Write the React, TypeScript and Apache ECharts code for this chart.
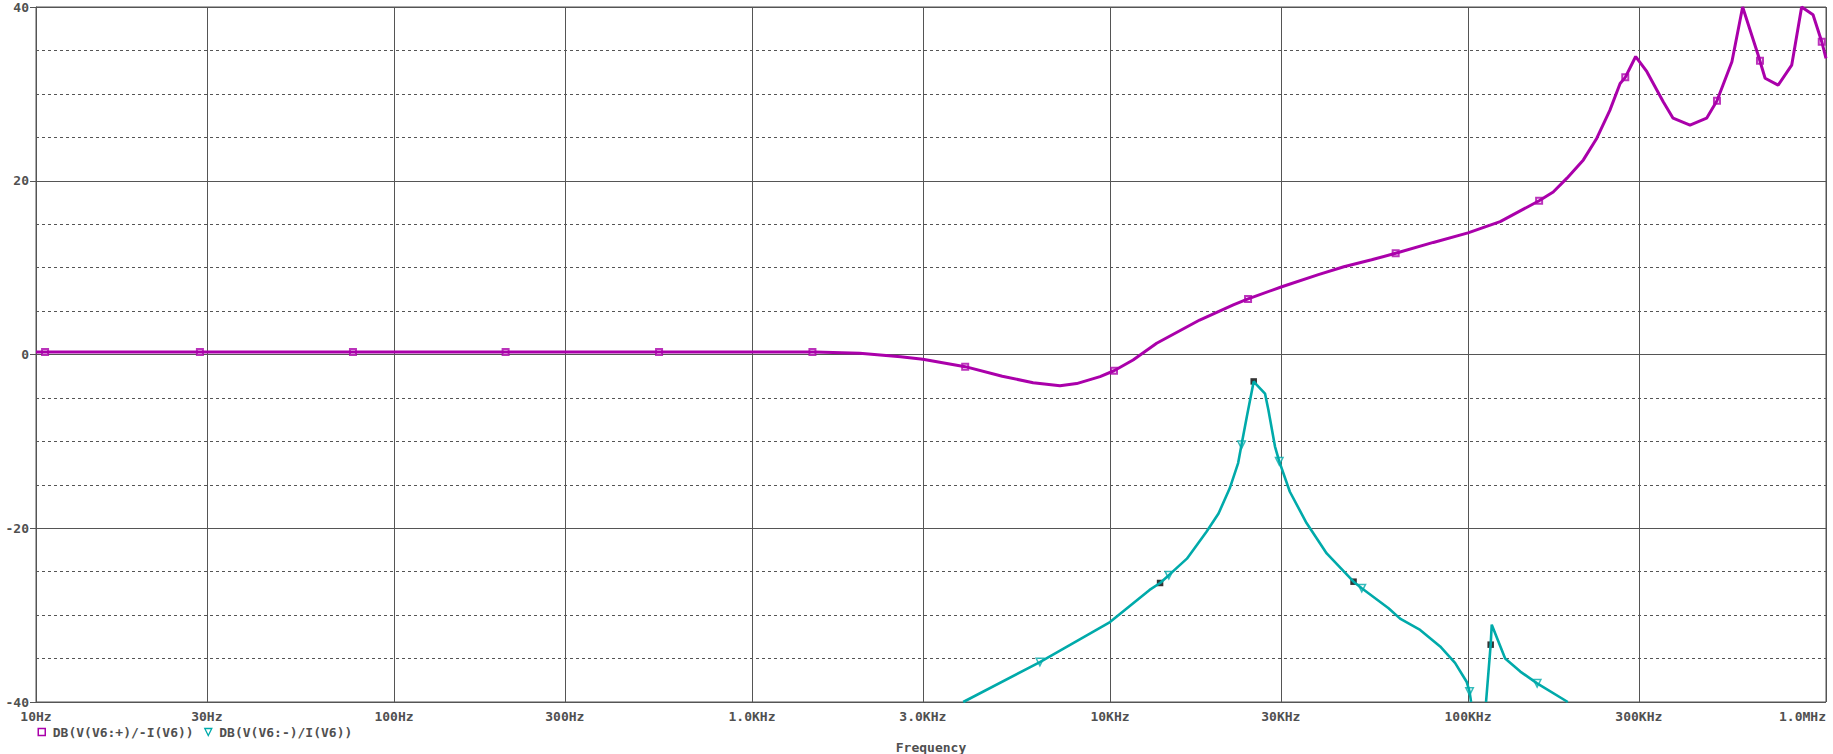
import React, { useEffect, useRef } from "react";
import * as echarts from "echarts";

// ---- axis ticks ----
const tickFreqs = [10, 30, 100, 300, 1000, 3000, 10000, 30000, 100000, 300000, 1000000];
const tickLabels = ["10Hz", "30Hz", "100Hz", "300Hz", "1.0KHz", "3.0KHz", "10KHz", "30KHz", "100KHz", "300KHz", "1.0MHz"];

// ---- series names ----
const magentaName = "DB(V(V6:+)/-I(V6))";
const cyanName = "DB(V(V6:-)/I(V6))";

// ---- magenta trace (Hz, dB) ----
const magentaFreq = [
  10, 30, 100, 300, 1000, 1500, 2000, 2600, 3000, 3940, 5000, 6100, 7250, 8070, 9380, 10260,
  11600, 13500, 17800, 22100, 24300, 30200, 38200, 45000, 53800, 62800, 80000, 100000, 123000,
  158000, 173000, 189000, 210000, 229000, 249000, 266000, 275000, 294000, 316000, 351000, 374000,
  417000, 464000, 496000, 546000, 585000, 646000, 676000, 735000, 802000, 855000, 920000, 973000, 1000000,
];
const magentaDb = [
  0.3, 0.3, 0.3, 0.3, 0.3, 0.3, 0.15, -0.25, -0.55, -1.4, -2.5, -3.25, -3.6, -3.35, -2.55, -1.87,
  -0.63, 1.29, 3.97, 5.7, 6.4, 7.8, 9.2, 10.1, 10.9, 11.65, 12.9, 14.0, 15.3,
  17.7, 18.7, 20.3, 22.4, 24.9, 28.1, 31.2, 31.9, 34.3, 32.55, 29.1, 27.2,
  26.4, 27.2, 29.2, 33.7, 40, 34.5, 31.8, 31.0, 33.3, 40, 39.1, 36.0, 34.1,
];
const magentaMarkFreq = [10.6, 28.7, 76.8, 205, 550, 1475, 3940, 10260, 24300, 62800, 158000, 275000, 496000, 654000, 973000];
const magentaMarkDb = [0.3, 0.3, 0.3, 0.3, 0.3, 0.3, -1.4, -1.87, 6.4, 11.65, 17.7, 31.9, 29.2, 33.8, 36.0];

// ---- cyan trace (Hz, dB); null = trace below the plot ----
const cyanFreq = [
  3890, 6370, 10000, 12900, 13800, 14600, 16400, 18600, 20100, 21600, 22800, 23300, 24100,
  25200, 25700, 27100, 27700, 28900, 29700, 31800, 35400, 40300, 47900, 50500, 60000, 64600, 73500,
  83600, 92000, 99200, 101000, 102000, 107000, 112300, 115700, 116500, 127000, 140000, 156000, 190000,
];
const cyanDb = [
  -40, -35.4, -30.8, -27.1, -26.3, -25.4, -23.5, -20.4, -18.3, -15.4, -12.5, -10.4, -7.2,
  -3.1, -3.5, -4.5, -6.4, -10.6, -12.3, -15.8, -19.4, -22.9, -26.15, -26.9, -29.2, -30.4, -31.7,
  -33.6, -35.5, -37.7, -38.8, -40, null, -40, -33.4, -31.1, -35.0, -36.5, -37.85, -40,
];
const cyanMarkFreq = [6370, 14600, 23300, 29700, 50500, 101000, 156000];
const cyanMarkDb = [-35.4, -25.4, -10.4, -12.3, -26.9, -38.8, -37.85];

// ---- cursor marks (black squares) ----
const cursorFreq = [13800, 25200, 47900, 115700];
const cursorDb = [-26.3, -3.1, -26.15, -33.4];

const MAGENTA = "#aa00aa";
const CYAN = "#00aaaa";
const GRID = "#555555";
const TEXT = "#505050";
const FONT = "DejaVu Sans Mono";
const TRI = "path://M0,0L10,0L5,10Z";
const SQUARE = "path://M0,0L10,0L10,10L0,10Z";

function zip(xs: number[], ys: (number | null)[]) {
  return xs.map((x, i) => (ys[i] === null ? [x, "-"] : [x, ys[i]]));
}

function labelFor(v: number): string {
  let best = 0;
  let bd = Infinity;
  tickFreqs.forEach((t, i) => {
    const d = Math.abs(Math.log10(v) - Math.log10(t));
    if (d < bd) {
      bd = d;
      best = i;
    }
  });
  return tickLabels[best];
}

export default function App() {
  const ref = useRef<HTMLDivElement>(null);
  useEffect(() => {
    if (!ref.current) return;
    const chart = echarts.init(ref.current, undefined, { renderer: "svg" });
    const textStyle = { color: TEXT, fontFamily: FONT, fontSize: 13, fontWeight: "bold" as const };
    chart.setOption({
      animation: false,
      backgroundColor: "#ffffff",
      grid: {
        left: 36,
        right: 7,
        top: 7,
        bottom: 52,
        show: true,
        borderColor: GRID,
        borderWidth: 1,
        containLabel: false,
        outerBoundsMode: "none",
      },
      xAxis: {
        type: "log",
        logBase: 10,
        min: 10,
        max: 1000000,
        name: "Frequency",
        nameLocation: "middle",
        nameGap: 39,
        nameTextStyle: { ...textStyle },
        axisLine: { show: true, lineStyle: { color: GRID, width: 1 } },
        axisTick: { show: true, length: 4, customValues: tickFreqs, lineStyle: { color: GRID, width: 1 } },
        axisLabel: {
          ...textStyle,
          customValues: tickFreqs,
          margin: 8,
          showMinLabel: true,
          showMaxLabel: true,
          alignMaxLabel: "right",
          formatter: (v: number) => labelFor(v),
        },
        splitLine: { show: true, lineStyle: { color: GRID, width: 1, type: "solid" } },
        minorTick: { show: false },
        minorSplitLine: { show: false },
      },
      yAxis: [
        {
          type: "value",
          min: -40,
          max: 40,
          interval: 20,
          axisLine: { show: true, lineStyle: { color: GRID, width: 1 } },
          axisTick: { show: true, length: 6, lineStyle: { color: GRID, width: 1 } },
          axisLabel: { ...textStyle, margin: 7 },
          splitLine: { show: true, lineStyle: { color: GRID, width: 1, type: "solid" } },
        },
        {
          type: "value",
          min: -40,
          max: 40,
          interval: 5,
          position: "left",
          axisLine: { show: false },
          axisTick: { show: false },
          axisLabel: { show: false },
          splitLine: { show: true, lineStyle: { color: GRID, width: 1, type: [3, 3] } },
        },
      ],
      legend: {
        left: 37.5,
        top: 725,
        padding: 0,
        itemWidth: 12,
        itemHeight: 7,
        itemGap: 10.5,
        symbolKeepAspect: true,
        selectedMode: false,
        textStyle: { ...textStyle, lineHeight: 14 },
        data: [
          { name: magentaName, icon: SQUARE, itemStyle: { color: "#ffffff", borderColor: MAGENTA, borderWidth: 1.5 } },
          { name: cyanName, icon: TRI, itemStyle: { color: "#ffffff", borderColor: CYAN, borderWidth: 1.3 } },
        ],
      },
      series: [
        {
          name: cyanName,
          type: "line",
          data: zip(cyanFreq, cyanDb),
          showSymbol: false,
          symbol: "none",
          connectNulls: false,
          clip: true,
          lineStyle: { color: CYAN, width: 2.6 },
          itemStyle: { color: CYAN },
        },
        {
          name: magentaName,
          type: "line",
          data: zip(magentaFreq, magentaDb),
          showSymbol: false,
          symbol: "none",
          clip: true,
          lineStyle: { color: MAGENTA, width: 3 },
          itemStyle: { color: MAGENTA },
        },
        {
          name: "magenta markers",
          type: "scatter",
          data: zip(magentaMarkFreq, magentaMarkDb),
          symbol: "rect",
          symbolSize: 6,
          itemStyle: { color: "#ffffff", borderColor: MAGENTA, borderWidth: 2 },
          silent: true,
        },
        {
          name: "cyan markers",
          type: "scatter",
          data: zip(cyanMarkFreq, cyanMarkDb),
          symbol: TRI,
          symbolSize: [7.5, 7.5],
          itemStyle: { color: "#ffffff", borderColor: CYAN, borderWidth: 1.5 },
          silent: true,
        },
        {
          name: "cursor marks",
          type: "scatter",
          data: zip(cursorFreq, cursorDb),
          symbol: "rect",
          symbolSize: 6.5,
          itemStyle: { color: "#000000" },
          silent: true,
        },
      ],
    });
    return () => chart.dispose();
  }, []);
  return (
    <div
      ref={ref}
      style={{ position: "fixed", left: 0, top: 0, width: 1833, height: 754, background: "#ffffff" }}
    />
  );
}
